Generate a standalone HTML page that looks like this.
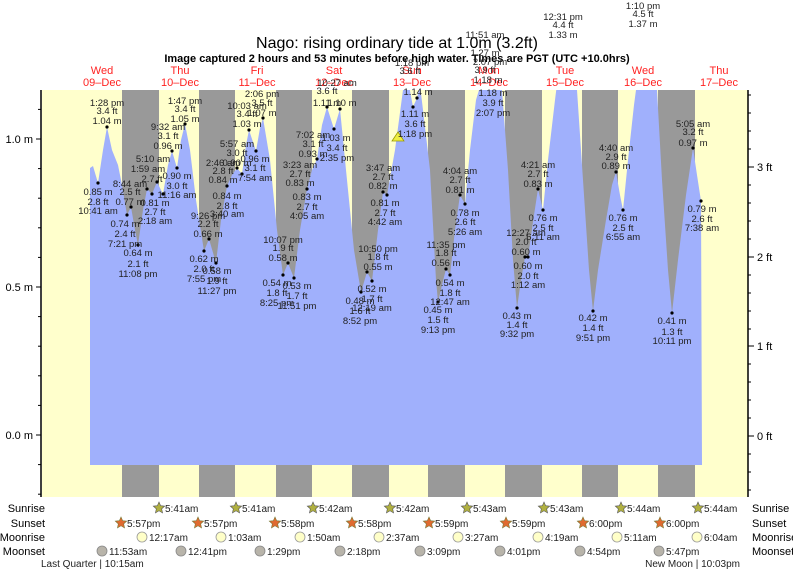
<!DOCTYPE html>
<html><head><meta charset="utf-8"><style>
html,body{margin:0;padding:0;background:#fff;}
svg{display:block;font-family:"Liberation Sans",sans-serif;}
</style></head><body>
<svg width="793" height="572" viewBox="0 0 793 572" xmlns="http://www.w3.org/2000/svg">
<defs>
<clipPath id="pc"><rect x="42" y="90" width="706" height="407"/></clipPath>
<polygon id="star" points="0,-6 1.65,-2.27 5.71,-1.85 2.66,0.87 3.53,4.85 0,2.8 -3.53,4.85 -2.66,0.87 -5.71,-1.85 -1.65,-2.27"/>
</defs>
<!-- plot background -->
<rect x="42" y="90" width="706" height="407" fill="#ffffcc"/>
<g fill="#999999">
<rect x="122" y="90" width="37" height="407"/>
<rect x="199" y="90" width="36" height="407"/>
<rect x="276" y="90" width="36" height="407"/>
<rect x="352" y="90" width="37" height="407"/>
<rect x="428" y="90" width="37" height="407"/>
<rect x="505" y="90" width="37" height="407"/>
<rect x="582" y="90" width="36" height="407"/>
<rect x="658" y="90" width="37" height="407"/>
</g>
<g clip-path="url(#pc)">
<polygon fill="#a0b0fc" points="90,465 90,168 93,166 98,183 103,150 107,127 112,150 118,165 122,185 127,215 131,207 135,230 138,245 143,210 147,189 152,194 157,182 163,194 168,165 172,151 177,168 181,140 185,124 190,150 196,200 204,251 209,239 216,263 221,220 227,186 232,175 237,168 242,174 246,145 249,130 256,151 260,128 263,118 270,160 277,230 283,275 288,263 294,278 300,230 307,189 312,170 317,159 322,125 327,107 334,129 340,109 346,170 354,250 361,292 367,272 372,281 378,230 383,192 387,195 395,150 403,90 408,80 413,107 417,98 420,85 423,110 430,170 436,280 438,302 442,285 446,269 450,275 455,230 460,195 465,204 470,150 476,100 482,80 488,70 495,78 502,90 508,170 513,260 517,308 521,280 525,257 528,257 534,215 538,189 543,210 548,160 555,100 560,60 566,40 572,60 577,90 583,180 589,270 593,311 598,270 606,220 612,185 616,172 620,195 623,210 628,160 634,105 640,60 647,30 653,60 657,90 662,180 668,270 672,313 678,260 686,195 693,148 697,175 701,201 702,465"/>
</g>
<!-- axes -->
<line x1="41" y1="90" x2="41" y2="497" stroke="#000" stroke-width="1.5"/>
<line x1="748" y1="90" x2="748" y2="497" stroke="#000" stroke-width="1.5"/>
<g stroke="#000" stroke-width="1">
<line x1="36" y1="139" x2="41" y2="139"/><line x1="36" y1="287" x2="41" y2="287"/><line x1="36" y1="435" x2="41" y2="435"/>
<line x1="38" y1="109.4" x2="41" y2="109.4"/><line x1="38" y1="168.6" x2="41" y2="168.6"/><line x1="38" y1="198.2" x2="41" y2="198.2"/><line x1="38" y1="227.8" x2="41" y2="227.8"/><line x1="38" y1="257.4" x2="41" y2="257.4"/><line x1="38" y1="316.6" x2="41" y2="316.6"/><line x1="38" y1="346.2" x2="41" y2="346.2"/><line x1="38" y1="375.8" x2="41" y2="375.8"/><line x1="38" y1="405.4" x2="41" y2="405.4"/><line x1="38" y1="464.6" x2="41" y2="464.6"/><line x1="38" y1="494.2" x2="41" y2="494.2"/>
<line x1="748" y1="167" x2="754" y2="167"/><line x1="748" y1="257" x2="754" y2="257"/><line x1="748" y1="346" x2="754" y2="346"/><line x1="748" y1="436" x2="754" y2="436"/>
<line x1="748" y1="95" x2="751" y2="95"/><line x1="748" y1="113" x2="751" y2="113"/><line x1="748" y1="131" x2="751" y2="131"/><line x1="748" y1="149" x2="751" y2="149"/><line x1="748" y1="185" x2="751" y2="185"/><line x1="748" y1="203" x2="751" y2="203"/><line x1="748" y1="221" x2="751" y2="221"/><line x1="748" y1="239" x2="751" y2="239"/><line x1="748" y1="275" x2="751" y2="275"/><line x1="748" y1="293" x2="751" y2="293"/><line x1="748" y1="311" x2="751" y2="311"/><line x1="748" y1="329" x2="751" y2="329"/><line x1="748" y1="364" x2="751" y2="364"/><line x1="748" y1="382" x2="751" y2="382"/><line x1="748" y1="400" x2="751" y2="400"/><line x1="748" y1="418" x2="751" y2="418"/><line x1="748" y1="454" x2="751" y2="454"/><line x1="748" y1="472" x2="751" y2="472"/><line x1="748" y1="490" x2="751" y2="490"/>
</g>
<g font-size="11" fill="#000">
<text x="33" y="143" text-anchor="end">1.0 m</text>
<text x="33" y="291" text-anchor="end">0.5 m</text>
<text x="33" y="439" text-anchor="end">0.0 m</text>
<text x="757" y="171">3 ft</text>
<text x="757" y="261">2 ft</text>
<text x="757" y="350">1 ft</text>
<text x="757" y="440">0 ft</text>
</g>
<!-- titles -->
<text x="397" y="48" font-size="16" text-anchor="middle">Nago: rising  ordinary tide at 1.0m (3.2ft)</text>
<text x="397" y="62" font-size="11" font-weight="bold" text-anchor="middle">Image captured 2 hours and 53 minutes before high water. Times are PGT (UTC +10.0hrs)</text>
<g font-size="11" fill="#ff2222" text-anchor="middle">
<text x="102" y="74">Wed</text><text x="102" y="86">09–Dec</text>
<text x="180" y="74">Thu</text><text x="180" y="86">10–Dec</text>
<text x="257" y="74">Fri</text><text x="257" y="86">11–Dec</text>
<text x="334" y="74">Sat</text><text x="334" y="86">12–Dec</text>
<text x="412" y="74">Sun</text><text x="412" y="86">13–Dec</text>
<text x="489" y="74">Mon</text><text x="489" y="86">14–Dec</text>
<text x="565" y="74">Tue</text><text x="565" y="86">15–Dec</text>
<text x="643" y="74">Wed</text><text x="643" y="86">16–Dec</text>
<text x="719" y="74">Thu</text><text x="719" y="86">17–Dec</text>
</g>
<!-- dots -->
<g fill="#000">
<circle cx="98" cy="183" r="1.6"/><circle cx="107" cy="127" r="1.6"/><circle cx="127" cy="215" r="1.6"/><circle cx="131" cy="207" r="1.6"/><circle cx="138" cy="245" r="1.6"/><circle cx="147" cy="189" r="1.6"/><circle cx="152" cy="194" r="1.6"/><circle cx="157" cy="182" r="1.6"/><circle cx="163" cy="194" r="1.6"/><circle cx="172" cy="151" r="1.6"/><circle cx="177" cy="168" r="1.6"/><circle cx="185" cy="124" r="1.6"/><circle cx="204" cy="251" r="1.6"/><circle cx="209" cy="239" r="1.6"/><circle cx="216" cy="263" r="1.6"/><circle cx="227" cy="186" r="1.6"/><circle cx="237" cy="168" r="1.6"/><circle cx="242" cy="174" r="1.6"/><circle cx="249" cy="130" r="1.6"/><circle cx="256" cy="151" r="1.6"/><circle cx="263" cy="118" r="1.6"/><circle cx="283" cy="275" r="1.6"/><circle cx="288" cy="263" r="1.6"/><circle cx="294" cy="278" r="1.6"/><circle cx="307" cy="189" r="1.6"/><circle cx="317" cy="159" r="1.6"/><circle cx="327" cy="107" r="1.6"/><circle cx="334" cy="129" r="1.6"/><circle cx="340" cy="109" r="1.6"/><circle cx="361" cy="292" r="1.6"/><circle cx="367" cy="272" r="1.6"/><circle cx="372" cy="281" r="1.6"/><circle cx="383" cy="192" r="1.6"/><circle cx="387" cy="195" r="1.6"/><circle cx="413" cy="107" r="1.6"/><circle cx="417" cy="98" r="1.6"/><circle cx="438" cy="302" r="1.6"/><circle cx="446" cy="269" r="1.6"/><circle cx="450" cy="275" r="1.6"/><circle cx="460" cy="195" r="1.6"/><circle cx="465" cy="204" r="1.6"/><circle cx="517" cy="308" r="1.6"/><circle cx="525" cy="257" r="1.6"/><circle cx="528" cy="257" r="1.6"/><circle cx="538" cy="189" r="1.6"/><circle cx="543" cy="210" r="1.6"/><circle cx="593" cy="311" r="1.6"/><circle cx="616" cy="172" r="1.6"/><circle cx="623" cy="210" r="1.6"/><circle cx="672" cy="313" r="1.6"/><circle cx="693" cy="148" r="1.6"/><circle cx="701" cy="201" r="1.6"/>
</g>
<polygon points="398,132 392,141 404,141" fill="#eeee44" stroke="#999900" stroke-width="0.8"/>
<!-- tide labels -->
<g font-size="9.5" fill="#222" text-anchor="middle">
<text x="107" y="106">1:28 pm</text><text x="107" y="114">3.4 ft</text><text x="107" y="124">1.04 m</text>
<text x="98" y="195">0.85 m</text><text x="98" y="205">2.8 ft</text><text x="98" y="214">10:41 am</text>
<text x="130" y="187">8:44 am</text><text x="130" y="195">2.5 ft</text><text x="130" y="205">0.77 m</text>
<text x="125" y="227">0.74 m</text><text x="125" y="237">2.4 ft</text><text x="125" y="247">7:21 pm</text>
<text x="138" y="256">0.64 m</text><text x="138" y="267">2.1 ft</text><text x="138" y="277">11:08 pm</text>
<text x="153" y="162">5:10 am</text><text x="148" y="172">1:59 am</text><text x="152" y="182">2.7 ft</text><text x="155" y="206">0.81 m</text><text x="155" y="215">2.7 ft</text><text x="155" y="224">2:18 am</text>
<text x="168" y="130">9:32 am</text><text x="168" y="139">3.1 ft</text><text x="168" y="149">0.96 m</text>
<text x="177" y="179">0.90 m</text><text x="177" y="189">3.0 ft</text><text x="177" y="198">11:16 am</text>
<text x="185" y="104">1:47 pm</text><text x="185" y="112">3.4 ft</text><text x="185" y="122">1.05 m</text>
<text x="208" y="219">9:26 pm</text><text x="208" y="227">2.2 ft</text><text x="208" y="237">0.66 m</text>
<text x="204" y="262">0.62 m</text><text x="204" y="272">2.0 ft</text><text x="204" y="282">7:55 pm</text>
<text x="217" y="274">0.58 m</text><text x="217" y="284">1.9 ft</text><text x="217" y="294">11:27 pm</text>
<text x="223" y="166">2:46 am</text><text x="223" y="174">2.8 ft</text><text x="223" y="183">0.84 m</text>
<text x="227" y="199">0.84 m</text><text x="227" y="209">2.8 ft</text><text x="227" y="217">3:40 am</text>
<text x="237" y="147">5:57 am</text><text x="237" y="156">3.0 ft</text><text x="237" y="166">0.90 m</text>
<text x="255" y="162">0.96 m</text><text x="255" y="171">3.1 ft</text><text x="255" y="181">7:54 am</text>
<text x="247" y="109">10:03 am</text><text x="247" y="117">3.4 ft</text><text x="247" y="127">1.03 m</text>
<text x="262" y="97">2:06 pm</text><text x="262" y="106">3.5 ft</text><text x="262" y="116">1.07 m</text>
<text x="283" y="243">10:07 pm</text><text x="283" y="251">1.9 ft</text><text x="283" y="261">0.58 m</text>
<text x="277" y="286">0.54 m</text><text x="277" y="296">1.8 ft</text><text x="277" y="306">8:25 pm</text>
<text x="297" y="289">0.53 m</text><text x="297" y="299">1.7 ft</text><text x="297" y="309">11:51 pm</text>
<text x="300" y="168">3:23 am</text><text x="300" y="177">2.7 ft</text><text x="300" y="186">0.83 m</text>
<text x="307" y="200">0.83 m</text><text x="307" y="210">2.7 ft</text><text x="307" y="219">4:05 am</text>
<text x="313" y="138">7:02 am</text><text x="313" y="147">3.1 ft</text><text x="313" y="157">0.93 m</text>
<text x="336" y="141">1.03 m</text><text x="337" y="151">3.4 ft</text><text x="337" y="161">2:35 pm</text>
<text x="327" y="94">3.6 ft</text><text x="327" y="106">1.11 m</text><text x="342" y="106">1.10 m</text><text x="337" y="86">10:27 am</text>
<text x="378" y="252">10:50 pm</text><text x="378" y="260">1.8 ft</text><text x="378" y="270">0.55 m</text>
<text x="372" y="292">0.52 m</text><text x="372" y="302">1.7 ft</text><text x="372" y="311">12:19 am</text>
<text x="360" y="304">0.48 m</text><text x="360" y="314">1.6 ft</text><text x="360" y="324">8:52 pm</text>
<text x="383" y="171">3:47 am</text><text x="383" y="180">2.7 ft</text><text x="383" y="189">0.82 m</text>
<text x="385" y="206">0.81 m</text><text x="385" y="216">2.7 ft</text><text x="385" y="225">4:42 am</text>
<text x="418" y="95">1.14 m</text>
<text x="415" y="117">1.11 m</text><text x="415" y="127">3.6 ft</text><text x="415" y="137">1:18 pm</text>
<text x="493" y="96">1.18 m</text><text x="493" y="106">3.9 ft</text><text x="493" y="116">2:07 pm</text>
<text x="485" y="38">11:51 am</text><text x="485" y="56">1.27 m</text><text x="490" y="65">2:07 pm</text><text x="485" y="73">3.9 ft</text><text x="488" y="83">1.18 m</text>
<text x="412" y="66">1:18 pm</text><text x="410" y="74">3.6 ft</text>
<text x="460" y="174">4:04 am</text><text x="460" y="183">2.7 ft</text><text x="460" y="193">0.81 m</text>
<text x="465" y="216">0.78 m</text><text x="465" y="225">2.6 ft</text><text x="465" y="235">5:26 am</text>
<text x="446" y="248">11:35 pm</text><text x="446" y="256">1.8 ft</text><text x="446" y="266">0.56 m</text>
<text x="450" y="286">0.54 m</text><text x="450" y="296">1.8 ft</text><text x="450" y="305">12:47 am</text>
<text x="438" y="313">0.45 m</text><text x="438" y="323">1.5 ft</text><text x="438" y="333">9:13 pm</text>
<text x="538" y="168">4:21 am</text><text x="538" y="177">2.7 ft</text><text x="538" y="187">0.83 m</text>
<text x="543" y="221">0.76 m</text><text x="543" y="231">2.5 ft</text><text x="543" y="240">6:11 am</text>
<text x="526" y="236">12:27 am</text><text x="526" y="245">2.0 ft</text><text x="526" y="255">0.60 m</text>
<text x="528" y="269">0.60 m</text><text x="528" y="279">2.0 ft</text><text x="528" y="288">1:12 am</text>
<text x="517" y="319">0.43 m</text><text x="517" y="328">1.4 ft</text><text x="517" y="337">9:32 pm</text>
<text x="563" y="20">12:31 pm</text><text x="563" y="28">4.4 ft</text><text x="563" y="38">1.33 m</text>
<text x="643" y="9">1:10 pm</text><text x="643" y="17">4.5 ft</text><text x="643" y="27">1.37 m</text>
<text x="593" y="321">0.42 m</text><text x="593" y="331">1.4 ft</text><text x="593" y="341">9:51 pm</text>
<text x="616" y="151">4:40 am</text><text x="616" y="160">2.9 ft</text><text x="616" y="169">0.89 m</text>
<text x="623" y="221">0.76 m</text><text x="623" y="231">2.5 ft</text><text x="623" y="240">6:55 am</text>
<text x="672" y="324">0.41 m</text><text x="672" y="335">1.3 ft</text><text x="672" y="344">10:11 pm</text>
<text x="693" y="127">5:05 am</text><text x="693" y="135">3.2 ft</text><text x="693" y="146">0.97 m</text>
<text x="702" y="212">0.79 m</text><text x="702" y="222">2.6 ft</text><text x="702" y="231">7:38 am</text>
</g>
<!-- bottom rows -->
<g font-size="11" fill="#000">
<text x="45" y="512" text-anchor="end">Sunrise</text>
<text x="45" y="527" text-anchor="end">Sunset</text>
<text x="45" y="541" text-anchor="end">Moonrise</text>
<text x="45" y="555" text-anchor="end">Moonset</text>
<text x="752" y="512">Sunrise</text>
<text x="752" y="527">Sunset</text>
<text x="752" y="541">Moonrise</text>
<text x="752" y="555">Moonset</text>
</g>
<g fill="#b0b040" stroke="#555" stroke-width="0.6">
<use href="#star" x="159" y="508"/><use href="#star" x="236" y="508"/><use href="#star" x="313" y="508"/><use href="#star" x="390" y="508"/><use href="#star" x="467" y="508"/><use href="#star" x="544" y="508"/><use href="#star" x="621" y="508"/><use href="#star" x="698" y="508"/>
</g>
<g fill="#e06a30" stroke="#773" stroke-width="0.6">
<use href="#star" x="121" y="523"/><use href="#star" x="198" y="523"/><use href="#star" x="275" y="523"/><use href="#star" x="352" y="523"/><use href="#star" x="429" y="523"/><use href="#star" x="506" y="523"/><use href="#star" x="583" y="523"/><use href="#star" x="660" y="523"/>
</g>
<g fill="#ffffc8" stroke="#999" stroke-width="0.8">
<circle cx="142" cy="537" r="5"/><circle cx="221" cy="537" r="5"/><circle cx="300" cy="537" r="5"/><circle cx="379" cy="537" r="5"/><circle cx="458" cy="537" r="5"/><circle cx="538" cy="537" r="5"/><circle cx="617" cy="537" r="5"/><circle cx="697" cy="537" r="5"/>
</g>
<g fill="#b8b4aa" stroke="#888" stroke-width="0.8">
<circle cx="102" cy="551" r="5"/><circle cx="181" cy="551" r="5"/><circle cx="260" cy="551" r="5"/><circle cx="340" cy="551" r="5"/><circle cx="420" cy="551" r="5"/><circle cx="500" cy="551" r="5"/><circle cx="580" cy="551" r="5"/><circle cx="659" cy="551" r="5"/>
</g>
<g font-size="10" fill="#222">
<text x="165" y="512">5:41am</text><text x="242" y="512">5:41am</text><text x="319" y="512">5:42am</text><text x="396" y="512">5:42am</text><text x="473" y="512">5:43am</text><text x="550" y="512">5:43am</text><text x="627" y="512">5:44am</text><text x="704" y="512">5:44am</text>
<text x="127" y="527">5:57pm</text><text x="204" y="527">5:57pm</text><text x="281" y="527">5:58pm</text><text x="358" y="527">5:58pm</text><text x="435" y="527">5:59pm</text><text x="512" y="527">5:59pm</text><text x="589" y="527">6:00pm</text><text x="666" y="527">6:00pm</text>
<text x="149" y="541">12:17am</text><text x="228" y="541">1:03am</text><text x="307" y="541">1:50am</text><text x="386" y="541">2:37am</text><text x="465" y="541">3:27am</text><text x="545" y="541">4:19am</text><text x="624" y="541">5:11am</text><text x="704" y="541">6:04am</text>
<text x="109" y="555">11:53am</text><text x="188" y="555">12:41pm</text><text x="267" y="555">1:29pm</text><text x="347" y="555">2:18pm</text><text x="427" y="555">3:09pm</text><text x="507" y="555">4:01pm</text><text x="587" y="555">4:54pm</text><text x="666" y="555">5:47pm</text>
<text x="41" y="567">Last Quarter | 10:15am</text>
<text x="740" y="567" text-anchor="end">New Moon | 10:03pm</text>
</g>
</svg>
</body></html>
